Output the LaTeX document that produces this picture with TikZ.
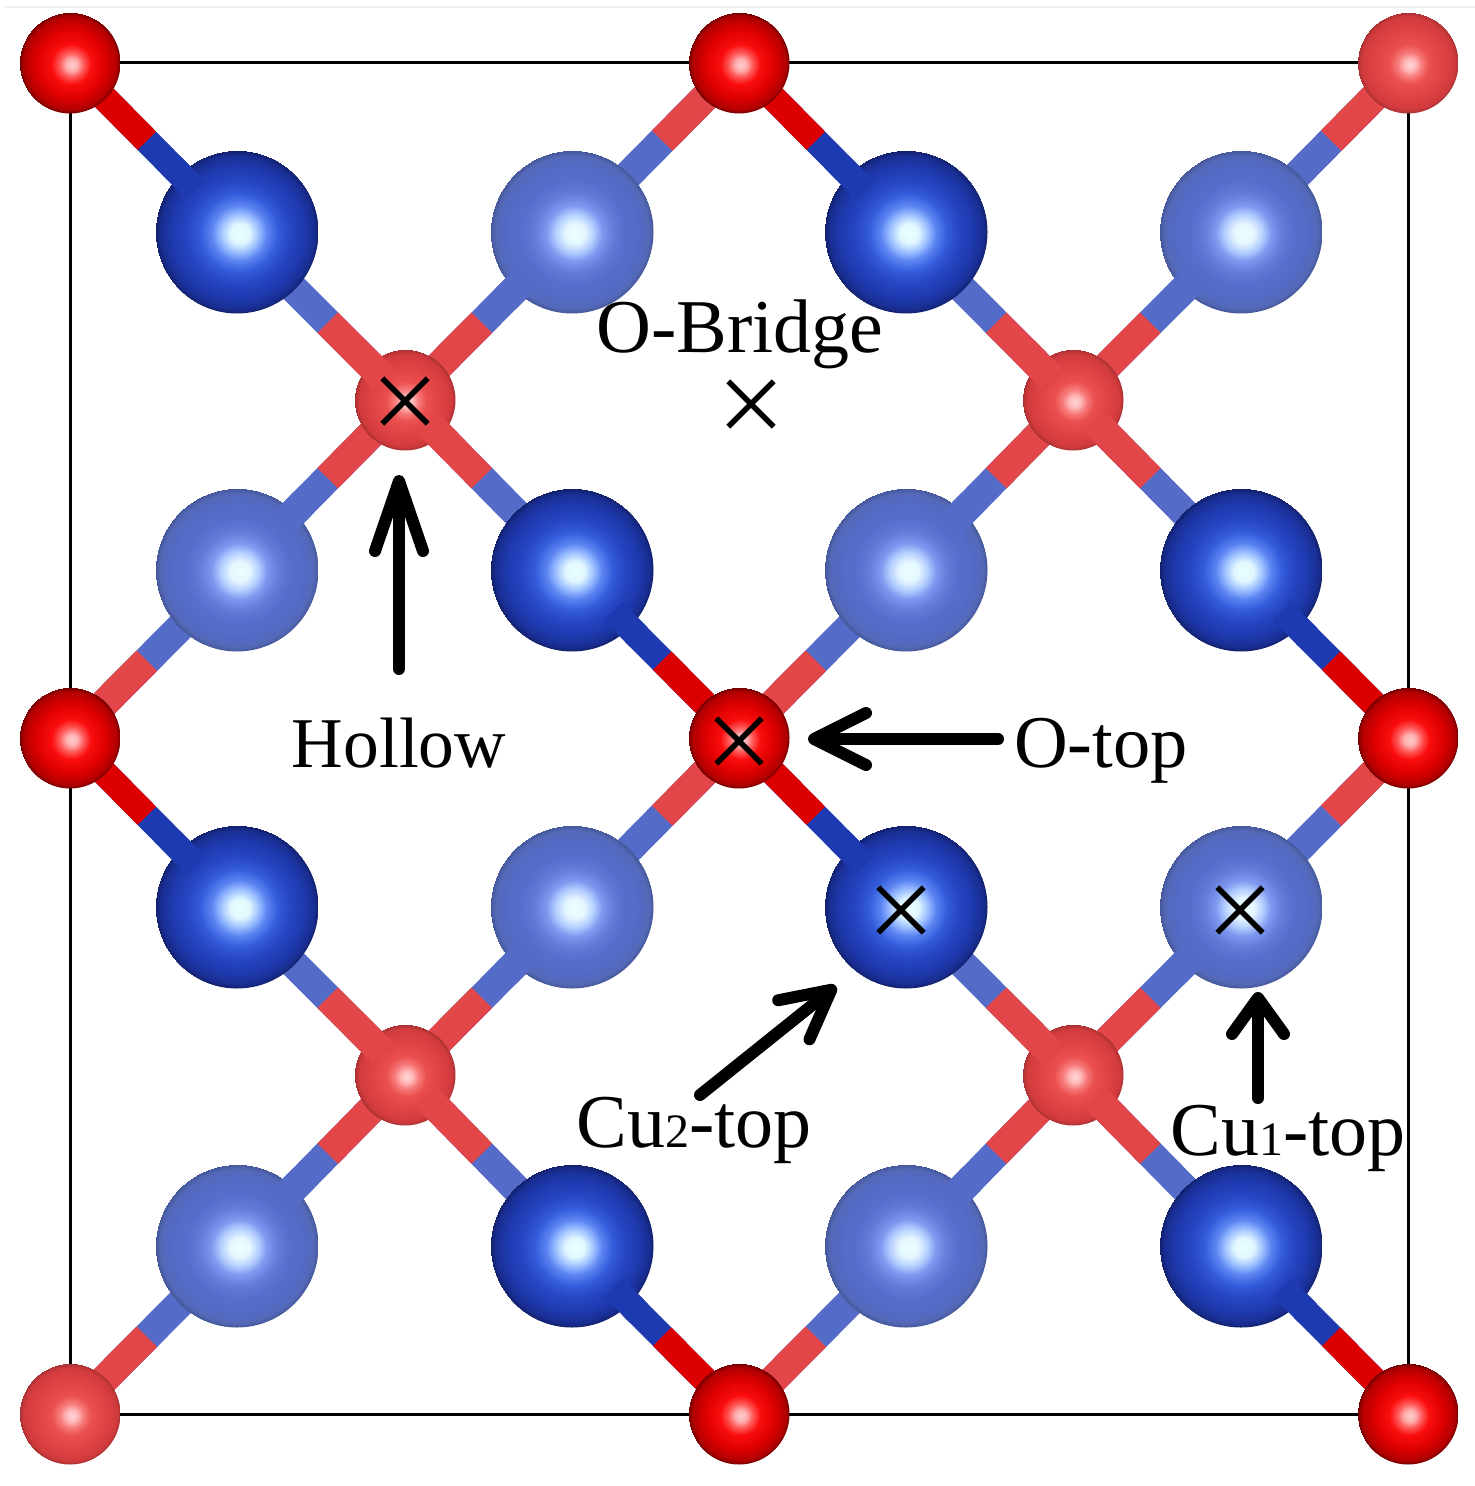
\documentclass[tikz,border=0pt]{standalone}
\usepackage{fontspec}
\setmainfont{Liberation Serif}
\usetikzlibrary{arrows.meta,calc,shapes.misc}
\definecolor{oxdark}{RGB}{221,0,0}
\definecolor{oxlight}{RGB}{226,70,72}
\definecolor{cudark}{RGB}{30,58,176}
\definecolor{culight}{RGB}{84,108,200}
\pgfdeclareradialshading{cudarkball}{\pgfpoint{1bp}{-.5bp}}{rgb(0bp)=(.92,1,1); rgb(3bp)=(.88,.97,1); rgb(6bp)=(.6,.74,1); rgb(8.5bp)=(.36,.52,.95); rgb(12bp)=(.2,.36,.86); rgb(16bp)=(.15,.27,.76); rgb(20bp)=(.12,.23,.69); rgb(23.5bp)=(.1,.18,.58); rgb(25bp)=(.07,.13,.42)}
\pgfdeclareradialshading{culightball}{\pgfpoint{1bp}{-.5bp}}{rgb(0bp)=(.92,1,1); rgb(3bp)=(.9,.97,1); rgb(6bp)=(.7,.8,1); rgb(8.5bp)=(.5,.6,.94); rgb(12bp)=(.39,.49,.85); rgb(16bp)=(.34,.43,.8); rgb(20bp)=(.33,.42,.78); rgb(23.5bp)=(.33,.41,.72); rgb(25bp)=(.27,.34,.6)}
\pgfdeclareradialshading{oxdarkball}{\pgfpoint{1bp}{-1bp}}{rgb(0bp)=(1,.8,.8); rgb(3bp)=(1,.68,.68); rgb(6bp)=(1,.35,.35); rgb(10bp)=(.98,.05,.05); rgb(17bp)=(.87,0,0); rgb(23bp)=(.7,0,0); rgb(25bp)=(.45,0,0)}
\pgfdeclareradialshading{oxlightball}{\pgfpoint{1bp}{-1bp}}{rgb(0bp)=(1,.84,.84); rgb(3bp)=(1,.72,.72); rgb(6bp)=(.97,.48,.48); rgb(10bp)=(.92,.31,.31); rgb(17bp)=(.88,.26,.27); rgb(23bp)=(.82,.23,.24); rgb(25bp)=(.66,.19,.2)}
\pgfdeclarelayer{bonds}
\pgfsetlayers{bonds,main}
\tikzset{
  cuatom/.style={circle,inner sep=0pt,minimum size=81.5pt,shading=cu#1ball},
  oxatom/.style={circle,inner sep=0pt,minimum size=50.5pt,shading=ox#1ball},
  bonddark/.style={line width=13pt},
  bondlight/.style={line width=14.5pt},
  site/.style={cross out,draw=black,line width=2.7pt,inner sep=0pt,minimum size=20pt},
  sitelabel/.style={anchor=base,inner sep=0pt,font=\fontsize{#1}{#1}\selectfont},
  pointer/.style 2 args={line width=6pt,line cap=round,-{Straight Barb[length=#1,width=#2,round]}},
}
\newcommand{\smalldigit}[1]{{\fontsize{24}{24}\selectfont #1}}
\begin{document}
\begin{tikzpicture}[x=.5pt,y=-.5pt]
   \useasboundingbox (0,0) rectangle (1475,1486);
   \foreach \name/\x/\y/\tone in {o00/70/63/dark,o40/739/63/dark,o80/1408/63/light,o22/405/400/light,o62/1073/400/light,o04/70/738/dark,o44/739/738/dark,o84/1408/738/dark,o26/405/1075/light,o66/1073/1075/light,o08/70/1414/light,o48/739/1414/dark,o88/1408/1414/dark}
     \node[oxatom=\tone] (\name) at (\x,\y) {};
   \foreach \name/\x/\y/\tone in {c11/237/232/dark,c31/572/232/light,c51/906/232/dark,c71/1241/232/light,c13/237/570/light,c33/572/570/dark,c53/906/570/light,c73/1241/570/dark,c15/237/907/dark,c35/572/907/light,c55/906/907/dark,c75/1241/907/light,c17/237/1246/light,c37/572/1246/dark,c57/906/1246/light,c77/1241/1246/dark}
     \node[cuatom=\tone] (\name) at (\x,\y) {};
   \begin{pgfonlayer}{bonds}
     \draw[line width=1.5pt] (o00.center) rectangle (o88.center);
     \foreach \ox/\cu/\tone in {o00/c11/dark,o22/c11/light,o22/c31/light,o40/c31/light,o40/c51/dark,o62/c51/light,o62/c71/light,o80/c71/light,o22/c13/light,o04/c13/light,o22/c33/light,o44/c33/dark,o44/c53/light,o62/c53/light,o62/c73/light,o84/c73/dark,o04/c15/dark,o26/c15/light,o44/c35/light,o26/c35/light,o44/c55/dark,o66/c55/light,o84/c75/light,o66/c75/light,o26/c17/light,o08/c17/light,o26/c37/light,o48/c37/dark,o66/c57/light,o48/c57/light,o66/c77/light,o88/c77/dark} {
       \draw[bond\tone,draw=cu\tone] (\ox.center) -- (\cu.center);
       \draw[bond\tone,draw=ox\tone] (\ox.center) -- ($(\ox.center)!.46!(\cu.center)$);
     }
   \end{pgfonlayer}
   % bond ends that stand in front of the balls
   \foreach \ox/\cu/\tone in {o00/c11/dark,o22/c31/light,o40/c51/dark,o62/c71/light,o22/c13/light,o44/c33/dark,o62/c53/light,o84/c73/dark,o04/c15/dark,o26/c35/light,o44/c55/dark,o66/c75/light,o26/c17/light,o48/c37/dark,o66/c57/light,o88/c77/dark}
     \draw[bond\tone,draw=cu\tone] ($(\ox.center)!.6!(\cu.center)$) -- ($(\ox.center)!.755!(\cu.center)$);
   \foreach \ox/\cu in {o22/c11,o22/c33,o62/c51,o62/c73,o26/c15,o26/c37,o66/c55,o66/c77}
     \draw[bondlight,draw=oxlight] ($(\ox.center)!.3!(\cu.center)$) -- ($(\ox.center)!.13!(\cu.center)$);
   \draw[black!6,line width=.8pt] (5,7) -- (1475,7);
   \node[site] (hollowsite) at (405,401) {};
   \node[site] (bridgesite) at (751,404) {};
   \node[site] (otopsite) at (739,741) {};
   \node[site] (cutwosite) at (901,910) {};
   \node[site] (cuonesite) at (1240,910) {};
   \node[sitelabel=38] (bridge) at (740,353) {O-Bridge};
   \node[sitelabel=35.7] (hollow) at (399,767) {Hollow};
   \node[sitelabel=37.2] (otop) at (1101,767) {O-top};
   \node[sitelabel=38] (cutwo) at (694,1147) {Cu\smalldigit{2}-top};
   \node[sitelabel=38] (cuone) at (1288,1155) {Cu\smalldigit{1}-top};
   \coordinate (hollowtail) at (399,669);
   \coordinate (hollowtip) at (399,475);
   \coordinate (otoptail) at (998,739);
   \coordinate (otoptip) at (808,739);
   \coordinate (cutwotail) at (700,1095);
   \coordinate (cutwotip) at (836,986);
   \coordinate (cuonetail) at (1258,1098);
   \coordinate (cuonetip) at (1258,992);
   \draw[pointer={35pt}{24pt}] (hollowtail) -- (hollowtip);
   \draw[pointer={26pt}{26pt}] (otoptail) -- (otoptip);
   \draw[pointer={24pt}{25pt}] (cutwotail) -- (cutwotip);
   \draw[pointer={18pt}{26pt}] (cuonetail) -- (cuonetip);
\end{tikzpicture}
\end{document}
